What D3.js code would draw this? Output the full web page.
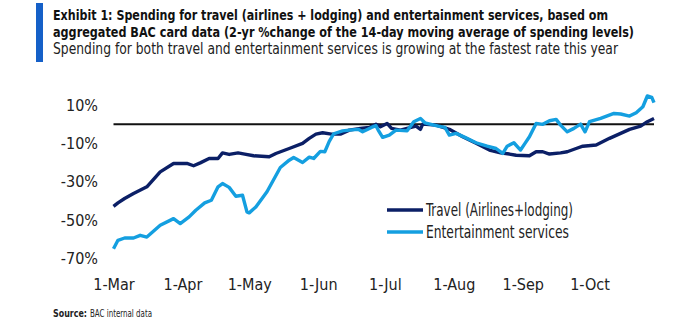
<!DOCTYPE html>
<html>
<head>
<meta charset="utf-8">
<script src="https://cdn.jsdelivr.net/npm/d3@7"></script>
<style>
  body { margin: 0; background: #fff; }
  svg { display: block; }
  text { font-family: "Liberation Sans Narrow", "DejaVu Sans Condensed", "Roboto", sans-serif; }
</style>
</head>
<body>
<div id="chart"></div>
<script>
// 2-yr % change, 14-day moving average
const travel = [
  ["2021-03-01", -42.9], ["2021-03-03", -41.1], ["2021-03-06", -38.8], ["2021-03-10", -36.2],
  ["2021-03-16", -32.7], ["2021-03-22", -24.9], ["2021-03-28", -20.5], ["2021-04-03", -20.5],
  ["2021-04-06", -21.7], ["2021-04-09", -20.2], ["2021-04-13", -17.9], ["2021-04-17", -17.9],
  ["2021-04-19", -15.0], ["2021-04-22", -15.8], ["2021-04-26", -15.0], ["2021-04-29", -15.6],
  ["2021-05-03", -16.5], ["2021-05-10", -17.0], ["2021-05-13", -15.3], ["2021-05-19", -12.7],
  ["2021-05-25", -10.0], ["2021-05-28", -7.4], ["2021-05-31", -5.2], ["2021-06-03", -4.5],
  ["2021-06-07", -5.2], ["2021-06-11", -5.2], ["2021-06-15", -3.1], ["2021-06-20", -2.2],
  ["2021-06-24", -1.7], ["2021-06-27", 0.0], ["2021-06-29", -1.4], ["2021-07-02", 0.4],
  ["2021-07-04", -2.2], ["2021-07-08", -3.1], ["2021-07-11", -2.2], ["2021-07-15", -1.0],
  ["2021-07-17", -2.7], ["2021-07-18", 0.0], ["2021-07-24", -0.5], ["2021-07-30", -2.7],
  ["2021-08-05", -6.6], ["2021-08-11", -10.0], ["2021-08-17", -13.5], ["2021-08-22", -15.0],
  ["2021-08-26", -15.6], ["2021-08-29", -16.2], ["2021-09-04", -16.5], ["2021-09-07", -14.4],
  ["2021-09-10", -14.4], ["2021-09-13", -15.6], ["2021-09-18", -15.0], ["2021-09-21", -14.4],
  ["2021-09-25", -12.7], ["2021-09-28", -11.5], ["2021-10-04", -10.9], ["2021-10-10", -7.4],
  ["2021-10-15", -4.8], ["2021-10-19", -2.7], ["2021-10-24", -1.0], ["2021-10-27", 1.3],
  ["2021-10-30", 3.0]
];

const entertainment = [
  ["2021-03-01", -65.0], ["2021-03-03", -60.6], ["2021-03-06", -59.4], ["2021-03-10", -59.4],
  ["2021-03-13", -58.0], ["2021-03-16", -58.9], ["2021-03-22", -52.8], ["2021-03-28", -49.3],
  ["2021-03-31", -51.9], ["2021-04-04", -48.4], ["2021-04-07", -44.9], ["2021-04-11", -41.1],
  ["2021-04-14", -39.7], ["2021-04-17", -32.7], ["2021-04-19", -31.0], ["2021-04-22", -33.0],
  ["2021-04-25", -37.6], ["2021-04-28", -37.1], ["2021-04-30", -45.8], ["2021-05-01", -46.3],
  ["2021-05-04", -43.2], ["2021-05-09", -35.3], ["2021-05-15", -22.6], ["2021-05-19", -18.8],
  ["2021-05-21", -17.4], ["2021-05-25", -20.0], ["2021-05-28", -17.2], ["2021-05-30", -17.9],
  ["2021-06-02", -14.2], ["2021-06-04", -14.4], ["2021-06-06", -9.0], ["2021-06-08", -5.0],
  ["2021-06-12", -3.5], ["2021-06-15", -3.1], ["2021-06-19", -2.7], ["2021-06-21", -4.0],
  ["2021-06-25", -1.7], ["2021-06-27", -0.8], ["2021-06-28", -3.1], ["2021-06-30", -6.9],
  ["2021-07-03", -5.7], ["2021-07-06", -3.1], ["2021-07-11", -3.5], ["2021-07-14", 1.3],
  ["2021-07-17", 3.0], ["2021-07-19", 0.7], ["2021-07-25", -1.0], ["2021-07-28", -1.7],
  ["2021-07-30", -5.7], ["2021-08-02", -4.8], ["2021-08-06", -6.9], ["2021-08-11", -9.7],
  ["2021-08-16", -11.5], ["2021-08-20", -12.7], ["2021-08-23", -15.3], ["2021-08-25", -11.5],
  ["2021-08-28", -9.7], ["2021-08-31", -13.5], ["2021-09-02", -10.0], ["2021-09-04", -6.6],
  ["2021-09-07", 0.4], ["2021-09-10", -0.1], ["2021-09-13", 1.8], ["2021-09-16", 2.5],
  ["2021-09-18", -0.5], ["2021-09-21", -4.0], ["2021-09-24", -2.2], ["2021-09-27", 0.0],
  ["2021-09-29", -4.0], ["2021-10-01", 1.3], ["2021-10-06", 3.0], ["2021-10-12", 5.6],
  ["2021-10-15", 5.3], ["2021-10-19", 4.2], ["2021-10-22", 6.0], ["2021-10-25", 9.1],
  ["2021-10-27", 14.7], ["2021-10-29", 14.0], ["2021-10-30", 11.2]
];

const seriesNames = ["Travel (Airlines+lodging)", "Entertainment services"];
const monthTicks = ["2021-03-01", "2021-04-01", "2021-05-01", "2021-06-01",
                    "2021-07-01", "2021-08-01", "2021-09-01", "2021-10-01"];
const yTicks = [10, -10, -30, -50, -70];

const titleLines = [
  "Exhibit 1: Spending for travel (airlines + lodging) and entertainment services, based om",
  "aggregated BAC card data (2-yr %change of the 14-day moving average of spending levels)"
];
const subtitle = "Spending for both travel and entertainment services is growing at the fastest rate this year";

const colors = ["#0b1f66", "#149fe0"];
const parse = d3.timeParse("%Y-%m-%d");

const W = 686, H = 322;
const svg = d3.select("#chart").append("svg")
    .attr("width", W)
    .attr("height", H);

// header block
svg.append("rect")
    .attr("x", 36).attr("y", 3)
    .attr("width", 7).attr("height", 59)
    .attr("fill", "#1560c8");

// the reference uses a condensed face, so squeeze the text to its widths
svg.selectAll("text.title")
  .data(titleLines)
  .join("text")
    .attr("class", "title")
    .attr("x", 53)
    .attr("y", (d, i) => 20 + i * 17)
    .attr("textLength", (d, i) => i === 0 ? 555 : 581)
    .attr("lengthAdjust", "spacingAndGlyphs")
    .style("font-size", "13.5px")
    .style("font-weight", "bold")
    .style("fill", "#111")
    .text(d => d);

svg.append("text")
    .attr("x", 53)
    .attr("y", 53.5)
    .attr("textLength", 565)
    .attr("lengthAdjust", "spacingAndGlyphs")
    .style("font-size", "15px")
    .style("fill", "#222")
    .text(subtitle);

// scales
const x = d3.scaleTime()
    .domain([parse("2021-03-01"), parse("2021-10-30")])
    .range([113.5, 654]);

const y = d3.scaleLinear()
    .domain([-70, 10])
    .range([258.3, 105]);

// y axis labels
const yAxis = svg.append("g")
    .attr("transform", "translate(104,0)")
    .call(d3.axisLeft(y).tickValues(yTicks).tickSize(0).tickPadding(6)
        .tickFormat(d => `${d}%`));
yAxis.select(".domain").remove();
yAxis.selectAll("text")
    .style("font-family", null)
    .style("font-size", "16px")
    .style("fill", "#222");

// x axis labels
const xAxis = svg.append("g")
    .attr("transform", "translate(0,258)")
    .call(d3.axisBottom(x).tickValues(monthTicks.map(parse)).tickSize(0).tickPadding(21)
        .tickFormat(d3.timeFormat("%-d-%b")));
xAxis.select(".domain").remove();
xAxis.selectAll("text")
    .style("font-family", null)
    .style("font-size", "16px")
    .style("fill", "#222");

// zero line
svg.append("line")
    .attr("x1", x.range()[0]).attr("x2", x.range()[1])
    .attr("y1", y(0)).attr("y2", y(0))
    .attr("stroke", "#111")
    .attr("stroke-width", 2);

const line = d3.line()
    .x(d => x(parse(d[0])))
    .y(d => y(d[1]));

[travel, entertainment].forEach((s, i) => {
    svg.append("path")
        .datum(s)
        .attr("fill", "none")
        .attr("stroke", colors[i])
        .attr("stroke-width", 3.4)
        .attr("stroke-linejoin", "round")
        .attr("d", line);
});

// legend
const legendWidths = [147, 143];
const legend = svg.append("g");
seriesNames.forEach((name, i) => {
    const ly = 210 + i * 22;
    legend.append("line")
        .attr("x1", 387).attr("x2", 423)
        .attr("y1", ly).attr("y2", ly)
        .attr("stroke", colors[i])
        .attr("stroke-width", 3.6);
    legend.append("text")
        .attr("x", 426)
        .attr("y", ly + 5.5)
        .attr("textLength", legendWidths[i])
        .attr("lengthAdjust", "spacingAndGlyphs")
        .style("font-size", "17px")
        .style("fill", "#222")
        .text(name);
});

// source
const src = svg.append("text")
    .attr("x", 53)
    .attr("y", 317)
    .style("font-size", "10px")
    .style("fill", "#222");
src.append("tspan")
    .attr("textLength", 34)
    .attr("lengthAdjust", "spacingAndGlyphs")
    .style("font-weight", "bold")
    .text("Source:");
src.append("tspan")
    .attr("x", 90)
    .attr("textLength", 62)
    .attr("lengthAdjust", "spacingAndGlyphs")
    .text("BAC internal data");
</script>
</body>
</html>
